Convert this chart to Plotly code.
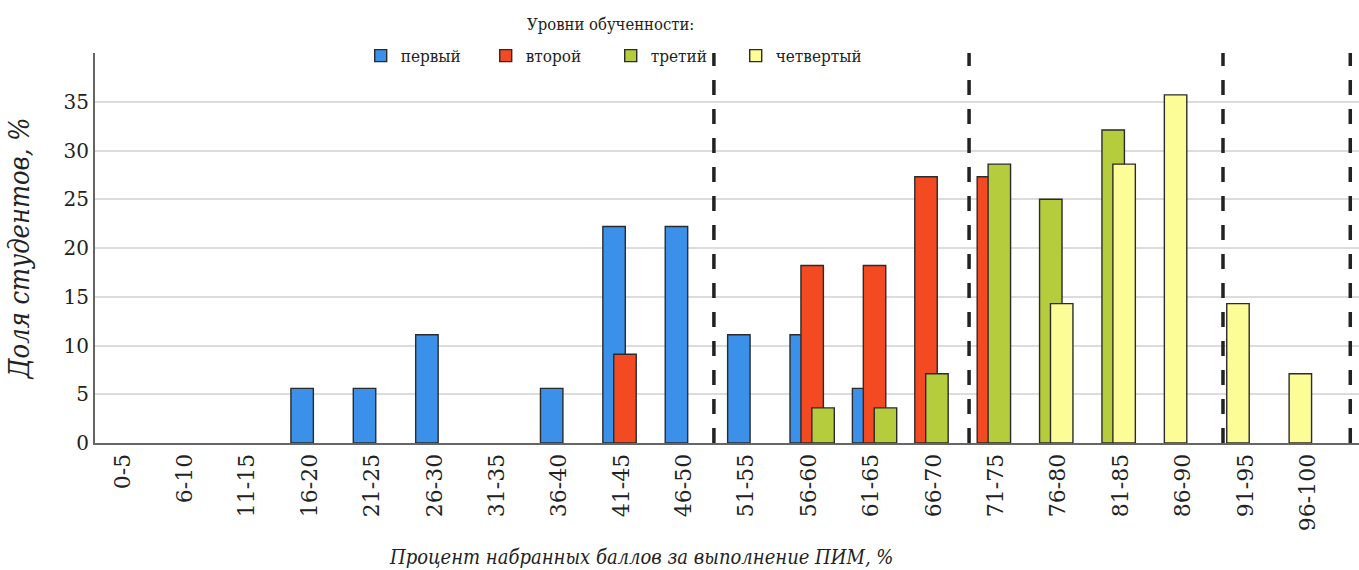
import plotly.graph_objects as go

categories = ["0-5", "6-10", "11-15", "16-20", "21-25", "26-30", "31-35", "36-40",
              "41-45", "46-50", "51-55", "56-60", "61-65", "66-70", "71-75", "76-80",
              "81-85", "86-90", "91-95", "96-100"]

level1 = [0, 0, 0, 5.6, 5.6, 11.1, 0, 5.6, 22.2, 22.2, 11.1, 11.1, 5.6, 0, 0, 0, 0, 0, 0, 0]
level2 = [0, 0, 0, 0, 0, 0, 0, 0, 9.1, 0, 0, 18.2, 18.2, 27.3, 27.3, 0, 0, 0, 0, 0]
level3 = [0, 0, 0, 0, 0, 0, 0, 0, 0, 0, 0, 3.6, 3.6, 7.1, 28.6, 25.0, 32.1, 0, 0, 0]
level4 = [0, 0, 0, 0, 0, 0, 0, 0, 0, 0, 0, 0, 0, 0, 0, 14.3, 28.6, 35.7, 14.3, 7.1]

series_names = ["первый", "второй", "третий", "четвертый"]
series_values = [level1, level2, level3, level4]
series_colors = ["#3b90ea", "#f34a22", "#b5cc3d", "#fdfd98"]

# level boundaries (in category-axis units) drawn as dashed separators
level_boundaries = [9.48, 13.57, 17.64, 19.68]

y_ticks = [0, 5, 10, 15, 20, 25, 30, 35]

legend_title = "Уровни обученности:"
x_title = "Процент набранных баллов за выполнение ПИМ, %"
y_title = "Доля студентов, %"

FONT = "DejaVu Serif"
COND = "DejaVu Serif Condensed, DejaVu Serif"
BAR_W = 0.36
STEP = 0.175
BASE = -0.12

# rank of each non-zero bar within its category
rank = [0] * len(categories)
fig = go.Figure()
for name, vals, col in zip(series_names, series_values, series_colors):
    xs, ys = [], []
    for i, v in enumerate(vals):
        if v > 0:
            xs.append(i + BASE + rank[i] * STEP)
            ys.append(v)
            rank[i] += 1
    fig.add_trace(go.Bar(
        x=xs, y=ys, name=name, width=BAR_W,
        marker=dict(color=col, line=dict(color="#2b2b2b", width=1.4)),
    ))

for xb in level_boundaries:
    fig.add_shape(type="line", xref="x", yref="paper", x0=xb, x1=xb, y0=0, y1=1,
                  line=dict(color="#222222", width=3.5, dash="15px,14px"), layer="above")

fig.add_annotation(text="<i>" + x_title + "</i>",
                   xref="paper", yref="paper", x=0.432, y=-0.292, yanchor="middle",
                   showarrow=False, font=dict(family=COND, size=20, color="#222222"))

fig.add_annotation(text=legend_title,
                   xref="paper", yref="paper", x=0.408, y=1.0743, yanchor="middle",
                   showarrow=False, font=dict(family=COND, size=16.5, color="#222222"))

fig.update_layout(
    width=1359, height=570,
    margin=dict(l=95, r=0, t=53, b=127),
    paper_bgcolor="white", plot_bgcolor="white",
    barmode="overlay",
    font=dict(family=FONT, color="#222222"),
    showlegend=True,
    legend=dict(
        orientation="h", x=0.408, xanchor="center", y=0.992, yanchor="middle",
        font=dict(family=COND, size=17),
        entrywidth=80, entrywidthmode="pixels",
        bgcolor="rgba(0,0,0,0)",
    ),
    xaxis=dict(
        range=[-0.44, 19.82], tickmode="array", tickvals=list(range(len(categories))),
        ticktext=categories, tickangle=-90, tickfont=dict(family=FONT, size=22, color="#222222"),
        showgrid=False, zeroline=False, showline=True, linecolor="#666666", linewidth=2,
        ticks="",
    ),
    yaxis=dict(
        range=[0, 40], tickmode="array", tickvals=y_ticks,
        tickfont=dict(family=FONT, size=20, color="#222222"),
        showgrid=True, gridcolor="#dcdcdc", gridwidth=1.5, zeroline=False,
        showline=True, linecolor="#666666", linewidth=2, ticks="",
        title=dict(text="<i>" + y_title + "</i>", font=dict(family=COND, size=27, color="#222222"),
                   standoff=26),
    ),
)

fig.write_html("out.html", config={"displayModeBar": False},
               post_script="document.body.style.margin='0';")
